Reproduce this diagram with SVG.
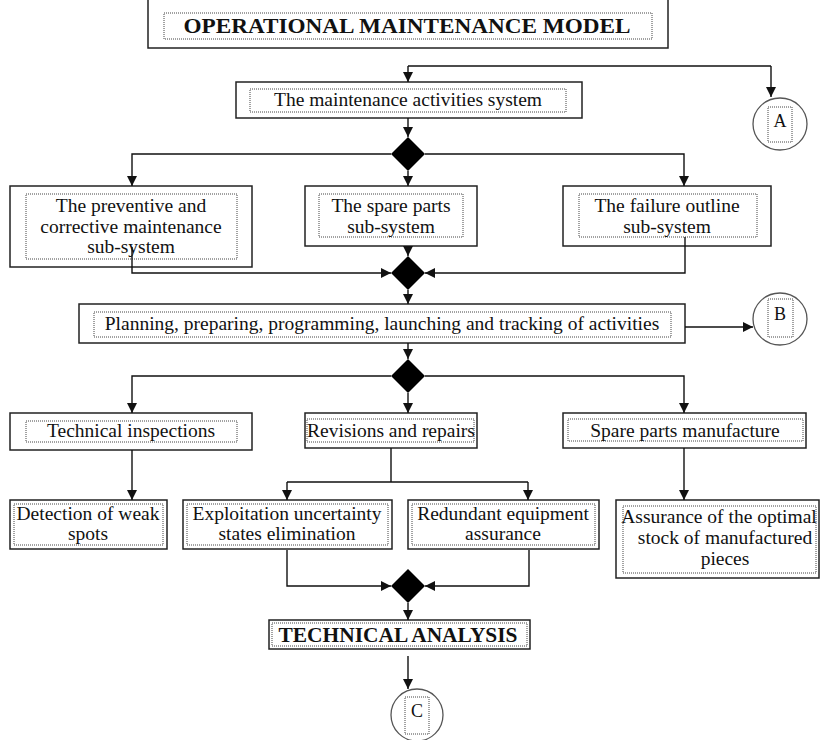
<svg xmlns="http://www.w3.org/2000/svg" width="821" height="740" viewBox="0 0 821 740">
<defs>
<marker id="ah" viewBox="0 0 10 10" refX="10" refY="5" markerWidth="10" markerHeight="10" markerUnits="userSpaceOnUse" orient="auto">
<path d="M0,0 L10,5 L0,10 z" fill="#111"/>
</marker>
<style>
.box{fill:#fff;stroke:#222;stroke-width:1.5}
.dot{fill:none;stroke:#444;stroke-width:1;stroke-dasharray:1 1}
.circ{fill:#fff;stroke:#555;stroke-width:1.3}
.dia{fill:#000}
.t{font-family:"Liberation Serif","Times New Roman",serif;font-size:19.5px;fill:#111;text-anchor:middle}
.tb{font-family:"Liberation Serif","Times New Roman",serif;font-size:20px;font-weight:bold;fill:#111;text-anchor:middle}
.c{fill:none;stroke:#111;stroke-width:1.4}
.ca{fill:none;stroke:#111;stroke-width:1.4;marker-end:url(#ah)}
</style>
</defs>
<rect width="821" height="740" fill="#fff"/>

<g id="title">
<rect class="box" x="148" y="-4" width="520" height="52"/>
<rect class="dot" x="164" y="13" width="488" height="26"/>
<text class="tb" x="407" y="33" textLength="447" lengthAdjust="spacingAndGlyphs">OPERATIONAL MAINTENANCE MODEL</text>
</g>

<g id="maintenance-system">
<rect class="box" x="236" y="82" width="346" height="36"/>
<rect class="dot" x="250" y="89" width="316" height="23"/>
<text class="t" x="408" y="106">The maintenance activities system</text>
</g>

<g id="circle-a">
<ellipse class="circ" cx="780" cy="124" rx="27" ry="26"/>
<rect class="dot" x="768" y="107" width="24" height="35"/>
<text class="t" x="780" y="127" style="font-size:18px">A</text>
</g>

<g id="diamond-1"><path class="dia" d="M408,137 L425,154 L408,171 L391,154 z"/></g>

<g id="preventive-subsystem">
<rect class="box" x="10" y="186" width="242" height="81"/>
<rect class="dot" x="26" y="194" width="211" height="65"/>
<text class="t" x="131" y="212">The preventive and</text>
<text class="t" x="131" y="233">corrective maintenance</text>
<text class="t" x="131" y="253">sub-system</text>
</g>

<g id="spare-parts-subsystem">
<rect class="box" x="305" y="186" width="172" height="60"/>
<rect class="dot" x="319" y="194" width="144" height="43"/>
<text class="t" x="391" y="212">The spare parts</text>
<text class="t" x="391" y="233">sub-system</text>
</g>

<g id="failure-subsystem">
<rect class="box" x="563" y="186" width="208" height="60"/>
<rect class="dot" x="579" y="194" width="178" height="43"/>
<text class="t" x="667" y="212">The failure outline</text>
<text class="t" x="667" y="233">sub-system</text>
</g>

<g id="diamond-2"><path class="dia" d="M408,256 L425,273 L408,290 L391,273 z"/></g>

<g id="planning">
<rect class="box" x="79" y="304" width="606" height="39"/>
<rect class="dot" x="94" y="312" width="577" height="25"/>
<text class="t" x="382" y="330">Planning, preparing, programming, launching and tracking of activities</text>
</g>

<g id="circle-b">
<ellipse class="circ" cx="780" cy="319" rx="27" ry="26"/>
<rect class="dot" x="768" y="299" width="25" height="38"/>
<text class="t" x="780" y="320" style="font-size:18px">B</text>
</g>

<g id="diamond-3"><path class="dia" d="M408,359 L425,376 L408,393 L391,376 z"/></g>

<g id="technical-inspections">
<rect class="box" x="10" y="413" width="242" height="37"/>
<rect class="dot" x="26" y="421" width="211" height="21"/>
<text class="t" x="131" y="437">Technical inspections</text>
</g>

<g id="revisions-repairs">
<rect class="box" x="305" y="413" width="172" height="35"/>
<rect class="dot" x="307" y="419" width="167" height="23"/>
<text class="t" x="391" y="437">Revisions and repairs</text>
</g>

<g id="spare-parts-manufacture">
<rect class="box" x="563" y="413" width="243" height="35"/>
<rect class="dot" x="568" y="419" width="235" height="22"/>
<text class="t" x="685" y="437">Spare parts manufacture</text>
</g>

<g id="detection">
<rect class="box" x="10" y="500" width="157" height="49"/>
<rect class="dot" x="14" y="504" width="149" height="41"/>
<text class="t" x="88" y="520">Detection of weak</text>
<text class="t" x="88" y="540">spots</text>
</g>

<g id="exploitation">
<rect class="box" x="183" y="500" width="209" height="49"/>
<rect class="dot" x="187" y="504" width="201" height="41"/>
<text class="t" x="287" y="520">Exploitation uncertainty</text>
<text class="t" x="287" y="540">states elimination</text>
</g>

<g id="redundant">
<rect class="box" x="408" y="500" width="191" height="49"/>
<rect class="dot" x="412" y="504" width="183" height="41"/>
<text class="t" x="503" y="520">Redundant equipment</text>
<text class="t" x="503" y="540">assurance</text>
</g>

<g id="assurance-stock">
<rect class="box" x="616" y="500" width="203" height="78"/>
<rect class="dot" x="623" y="506" width="193" height="67"/>
<text class="t" x="719" y="523">Assurance of the optimal</text>
<text class="t" x="725" y="544">stock of manufactured</text>
<text class="t" x="725" y="565">pieces</text>
</g>

<g id="diamond-4"><path class="dia" d="M408,569 L425,586 L408,603 L391,586 z"/></g>

<g id="technical-analysis">
<rect class="box" x="269" y="620" width="261" height="29"/>
<rect class="dot" x="272" y="623" width="255" height="23"/>
<text class="tb" x="398" y="642" textLength="239" lengthAdjust="spacingAndGlyphs">TECHNICAL ANALYSIS</text>
</g>

<g id="circle-c">
<ellipse class="circ" cx="417" cy="715" rx="26" ry="26"/>
<rect class="dot" x="405" y="697" width="24" height="37"/>
<text class="t" x="417" y="717" style="font-size:18px">C</text>
</g>

<g id="connectors">
<path class="c" d="M408,66 H771"/>
<path class="ca" d="M771,66 V97"/>
<path class="ca" d="M408,66 V82"/>
<path class="ca" d="M408,118 V137"/>
<path class="ca" d="M391,154 H132 V186"/>
<path class="ca" d="M408,171 V186"/>
<path class="ca" d="M425,154 H684 V186"/>
<path class="ca" d="M132,247 V273 H391"/>
<path class="ca" d="M408,246 V256"/>
<path class="ca" d="M685,237 V273 H425"/>
<path class="ca" d="M408,290 V304"/>
<path class="ca" d="M685,327 H753"/>
<path class="ca" d="M408,343 V359"/>
<path class="ca" d="M391,376 H132 V413"/>
<path class="ca" d="M408,393 V413"/>
<path class="ca" d="M425,376 H684 V413"/>
<path class="ca" d="M132,450 V500"/>
<path class="c" d="M391,448 V482 M287,482 H528"/>
<path class="ca" d="M287,482 V500"/>
<path class="ca" d="M528,482 V500"/>
<path class="ca" d="M684,448 V500"/>
<path class="ca" d="M287,550 V586 H391"/>
<path class="ca" d="M529,550 V586 H425"/>
<path class="ca" d="M408,603 V620"/>
<path class="ca" d="M408,656 V689"/>
</g>
</svg>
